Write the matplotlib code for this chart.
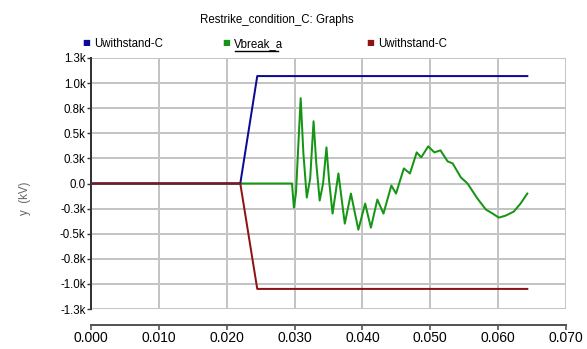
import numpy as np
import matplotlib
matplotlib.use("Agg")
import matplotlib.pyplot as plt
from matplotlib import font_manager
from matplotlib.lines import Line2D

# ---- data (kV vs s) ----
t_withstand = [0.0, 0.0220, 0.0245, 0.0643]
uw_upper = [0.0, 0.0, 1.07, 1.07]
uw_lower = [0.0, 0.0, -1.05, -1.05]

t_vbreak = [0.0, 0.02962, 0.0299, 0.0302, 0.0309, 0.0313, 0.0318, 0.0323,
            0.0328, 0.0332, 0.0337, 0.0342, 0.0347, 0.0351, 0.0356, 0.03646,
            0.0374, 0.0383, 0.0394, 0.0404, 0.04125, 0.0422, 0.0431, 0.04426,
            0.04495, 0.0461, 0.0470, 0.0480, 0.04866, 0.0497, 0.0506, 0.0515,
            0.05256, 0.0533, 0.05451, 0.05549, 0.05695, 0.0582, 0.0592, 0.0601,
            0.0611, 0.0623, 0.0633, 0.0643]
vbreak = [0.0, 0.0, -0.24, -0.10, 0.85, 0.30, -0.14, 0.05,
          0.62, 0.20, -0.17, 0.0, 0.36, 0.02, -0.30, 0.10,
          -0.40, -0.10, -0.46, -0.20, -0.44, -0.16, -0.30, -0.02,
          -0.10, 0.15, 0.10, 0.31, 0.26, 0.37, 0.31, 0.33,
          0.22, 0.20, 0.06, 0.0, -0.15, -0.26, -0.30, -0.34,
          -0.32, -0.28, -0.20, -0.10]

y_ticks = [-1.25, -1.0, -0.75, -0.5, -0.25, 0.0, 0.25, 0.5, 0.75, 1.0, 1.25]
y_labels = ['-1.3k', '-1.0k', '-0.8k', '-0.5k', '-0.3k', '0.0',
            '0.3k', '0.5k', '0.8k', '1.0k', '1.3k']
x_ticks = [0.0, 0.01, 0.02, 0.03, 0.04, 0.05, 0.06, 0.07]
x_labels = ['0.000', '0.010', '0.020', '0.030', '0.040', '0.050', '0.060', '0.070']

series_names = ['Uwithstand-C', 'Vbreak_a', 'Uwithstand-C']
series_colors = ['#0a0a96', '#149614', '#8c1414']

# font: narrow if we have it
names = {f.name for f in font_manager.fontManager.ttflist}
if 'Liberation Sans Narrow' in names:
    fam, fs = 'Liberation Sans Narrow', 9.5
else:
    fam, fs = 'Liberation Sans', 8.3
plt.rcParams['font.family'] = [fam, 'DejaVu Sans']

W, H = 587, 349
PX = 0.72  # points per pixel at 100 dpi
fig = plt.figure(figsize=(W / 100, H / 100), dpi=100)
ax = fig.add_axes([91 / W, 1 - 309 / H, 475 / W, 251 / H])

ax.plot(t_vbreak, vbreak, color=series_colors[1], lw=2 * PX, zorder=3)
ax.plot(t_withstand, uw_upper, color=series_colors[0], lw=2 * PX, zorder=4)
ax.plot(t_withstand, uw_lower, color=series_colors[2], lw=2 * PX, zorder=5)

ax.set_xlim(0, 0.07)
ax.set_ylim(-1.25, 1.25)
ax.set_xticks(x_ticks)
ax.set_xticklabels(x_labels, fontsize=fs)
ax.set_yticks(y_ticks)
ax.set_yticklabels(y_labels, fontsize=fs)
ax.grid(True, color='#c4c4c4', lw=2 * PX)
ax.set_axisbelow(True)

for s in ['top', 'right']:
    ax.spines[s].set_visible(False)
ax.spines['left'].set_color('#333333')
ax.spines['left'].set_linewidth(2 * PX)
ax.spines['bottom'].set_position(('outward', 16 * PX))
ax.spines['bottom'].set_color('#555555')
ax.spines['bottom'].set_linewidth(2 * PX)
ax.tick_params(axis='y', direction='out', length=4 * PX, width=1, color='#333333', pad=1)
ax.tick_params(axis='x', direction='out', length=5 * PX, width=1.2, color='#555555', pad=1)

fig.text(25 / W, 1 - 198 / H, 'y  (kV)', rotation=90, ha='center', va='center',
         fontsize=fs, color='#666666')
fig.text(277 / W, 1 - 20 / H, 'Restrike_condition_C: Graphs', ha='center',
         va='center', fontsize=fs)

# legend row
leg_x = [86, 226, 370]
for x, name, c in zip(leg_x, series_names, series_colors):
    fig.text(x / W, 1 - 42 / H, '■', color=c, fontsize=6, ha='center', va='center',
             family='DejaVu Sans')
    fig.text((x + 8) / W, 1 - 44 / H, name, ha='left', va='center', fontsize=fs)
fig.add_artist(Line2D([235 / W, 278 / W], [1 - 51 / H, 1 - 51 / H], color='black',
                      lw=1, transform=fig.transFigure))

fig.savefig('out.png', dpi=100)
